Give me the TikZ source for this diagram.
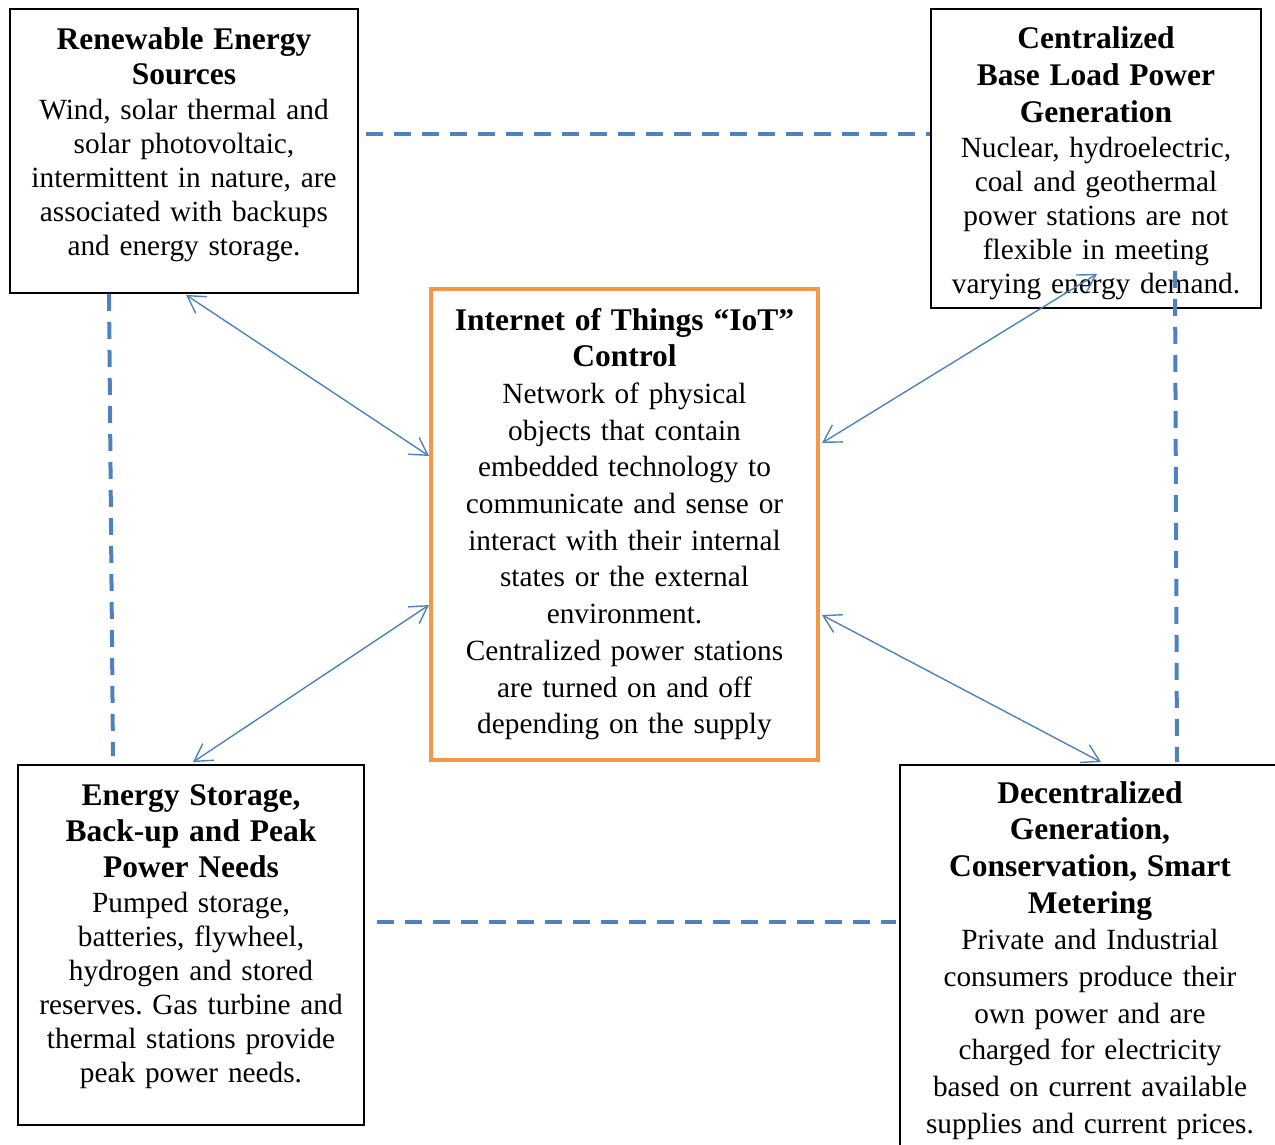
\documentclass[tikz,border=0pt]{standalone}
\usepackage{fontspec}
\setmainfont{Liberation Serif}
\usepackage{xcolor}
\usetikzlibrary{arrows.meta,calc}

\definecolor{linkblue}{HTML}{4F81BD}
\definecolor{iotorange}{HTML}{F79646}
\newcommand{\boxhead}{\fontsize{31.5}{\the\baselineskip}\selectfont\bfseries}
\frenchspacing

\tikzset{
  box/.style={rectangle, draw=black, line width=1.8pt, inner sep=0pt},
  txt/.style={anchor=base, align=center, inner sep=0pt, font=\fontsize{29.3}{34}\selectfont},
  widetxt/.style={txt, font=\fontsize{29.3}{36.7}\selectfont},
  twoway/.style={linkblue, line width=1.4pt, {Straight Barb[length=17pt,width=20pt]}-{Straight Barb[length=17pt,width=20pt]}},
  dashlink/.style={linkblue, line width=4pt, dash pattern=on 17pt off 11pt}
}

\begin{document}
\begin{tikzpicture}[x=1pt,y=1pt,yscale=-1,xscale=1]
        \useasboundingbox (0,0) rectangle (1275,1144);
        \clip (0,0) rectangle (1275,1144);

        %Shape: Rectangle [id:re]
        \node[box, minimum width=348pt, minimum height=284pt] (re) at (184,151) {};
        %Shape: Rectangle [id:cb]
        \node[box, minimum width=330pt, minimum height=299pt] (cb) at (1096,158.5) {};
        %Shape: Rectangle [id:iot]
        \node[box, draw=iotorange, line width=4pt, minimum width=387pt, minimum height=471pt] (iot) at (624.5,524.5) {};
        %Shape: Rectangle [id:es]
        \node[box, minimum width=346pt, minimum height=360pt] (es) at (191,945) {};
        %Shape: Rectangle [id:dg]
        \node[box, minimum width=380pt, minimum height=385pt] (dg) at (1090,957.5) {};

        % Text Node
        \node[txt, text width=340pt] (retxt) at (184,49) {{\boxhead Renewable Energy\\[1pt] Sources}\\[1pt] Wind, solar thermal and\\ solar photovoltaic,\\ intermittent in nature, are\\ associated with backups\\ and energy storage.};
        % Text Node
        \node[txt, text width=322pt] (cbtxt) at (1096,48) {{\boxhead Centralized\\[3pt] Base Load Power\\[3pt] Generation}\\[1pt] Nuclear, hydroelectric,\\ coal and geothermal\\ power stations are not\\ flexible in meeting\\ varying energy demand.};
        % Text Node
        \node[widetxt, text width=380pt] (iottxt) at (624.5,330) {{\boxhead Internet of Things “IoT”\\ Control}\\ Network of physical\\ objects that contain\\ embedded technology to\\ communicate and sense or\\ interact with their internal\\ states or the external\\ environment.\\ Centralized power stations\\ are turned on and off\\ depending on the supply};
        % Text Node
        \node[txt, text width=340pt] (estxt) at (191,805) {{\boxhead Energy Storage,\\[2pt] Back-up and Peak\\[2pt] Power Needs}\\[1pt] Pumped storage,\\ batteries, flywheel,\\ hydrogen and stored\\ reserves. Gas turbine and\\ thermal stations provide\\ peak power needs.};
        % Text Node
        \node[widetxt, text width=372pt] (dgtxt) at (1090,803) {{\boxhead Decentralized\\ Generation,\\ Conservation, Smart\\ Metering}\\ Private and Industrial\\ consumers produce their\\ own power and are\\ charged for electricity\\ based on current available\\ supplies and current prices.};

        % dashed links between the outer boxes
        \coordinate (t1) at ($(re.east)+(7,-17)$);
        \draw[dashlink] (t1) -- (t1 -| cb.west);
        \draw[dashlink] ($(re.south)+(-75,0)$) -- ($(es.north)+(-78,-8)$);
        \coordinate (b1) at ($(es.east)+(12,-23)$);
        \draw[dashlink] (b1) -- ($(b1 -| dg.west)+(-3,0)$);
        \draw[dashlink] ($(cb.south)+(79,-38)$) -- ($(dg.north)+(87,-2)$);

        % arrows to the IoT box
        \draw[twoway] ($(re.south)+(2,1)$) -- ($(iot.west)+(0,-68.5)$);
        \draw[twoway] ($(cb.south)+(1,-35)$) -- ($(iot.east)+(2,-81.5)$);
        \draw[twoway] ($(iot.west)+(0,80.5)$) -- ($(es.north)+(2,-2)$);
        \draw[twoway] ($(iot.east)+(2,90.5)$) -- ($(dg.north)+(11,-2)$);

\end{tikzpicture}
\end{document}
